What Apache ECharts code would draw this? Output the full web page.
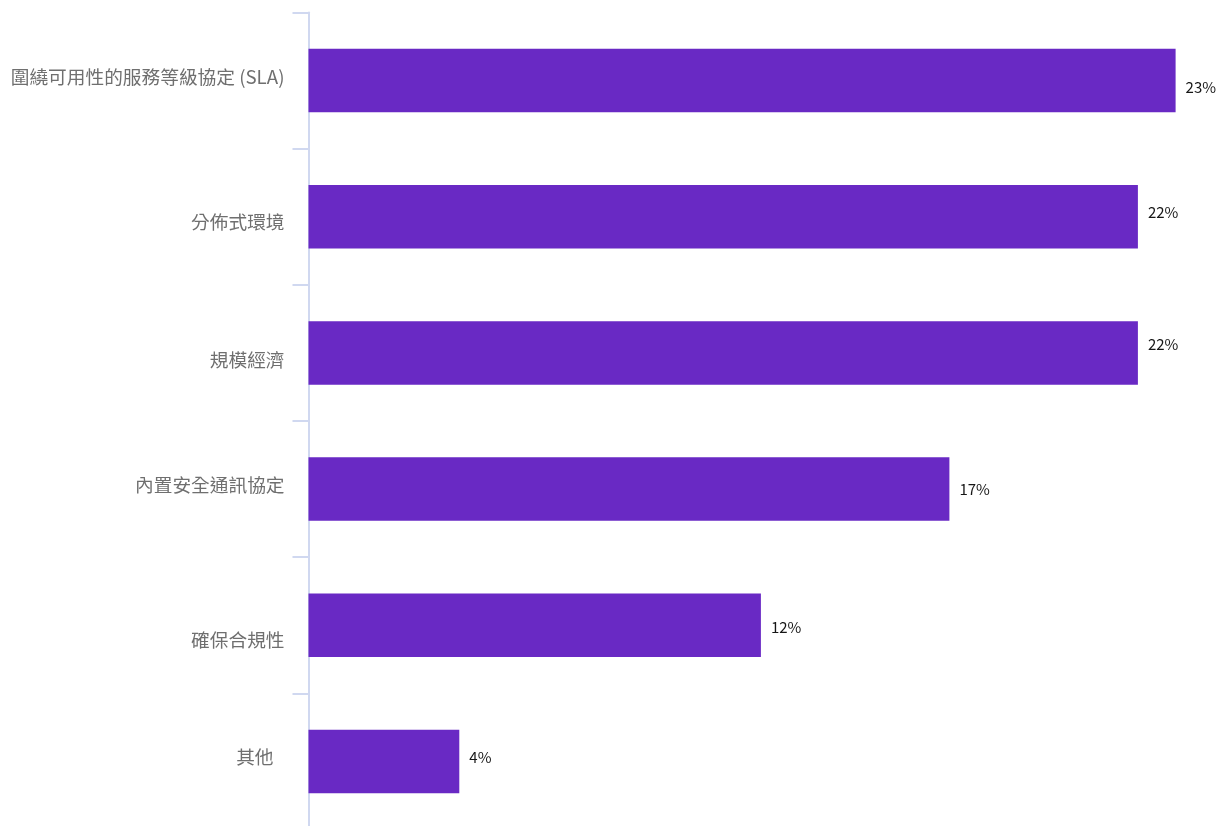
<!DOCTYPE html>
<html>
<head>
<meta charset="utf-8">
<script src="https://cdn.jsdelivr.net/npm/echarts@6/dist/echarts.min.js"></script>
<style>
  html, body { margin: 0; padding: 0; background: #ffffff; }
  #chart { width: 1230px; height: 826px; }
</style>
</head>
<body>
<div id="chart"></div>
<script>
// Reasons cited, share of respondents (%)
const categories = [
  '圍繞可用性的服務等級協定 (SLA)',
  '分佈式環境',
  '規模經濟',
  '內置安全通訊協定',
  '確保合規性',
  '其他'
];
const shares = [23, 22, 22, 17, 12, 4];

// Small vertical nudges (px) for the category and value labels
const categoryNudge = [-4, 5, 7, -4, 15, -5];
const categoryRightPad = [0, 0, 0, 0, 0, 11];
const valueNudge = [7, -4, -9, 0, 2, -4];

const rich = {};
categories.forEach((c, i) => {
  const d = categoryNudge[i];
  rich['c' + i] = {
    fontFamily: '"Noto Sans CJK TC", "Noto Sans", sans-serif',
    fontSize: 18.7,
    color: '#6f6f6f',
    padding: [d > 0 ? 2 * d : 0, categoryRightPad[i], d < 0 ? -2 * d : 0, 0]
  };
});

const chart = echarts.init(document.getElementById('chart'), null, { renderer: 'canvas' });
chart.setOption({
  backgroundColor: '#ffffff',
  animation: false,
  grid: {
    left: 308.5, top: 12.5, width: 24 * 37.7, height: 817,
    containLabel: false,
    outerBoundsMode: 'none'
  },
  xAxis: {
    type: 'value',
    min: 0,
    max: 24,
    show: false
  },
  yAxis: {
    type: 'category',
    data: categories,
    inverse: true,
    axisLine: { show: true, lineStyle: { color: '#d0d8f0', width: 2 } },
    axisTick: { show: true, length: 16, lineStyle: { color: '#d0d8f0', width: 2 } },
    axisLabel: {
      margin: 24,
      formatter: (value, index) => '{c' + index + '|' + value + '}',
      rich: rich
    },
    splitLine: { show: false }
  },
  series: [{
    type: 'bar',
    barWidth: '46.6%',
    itemStyle: { color: '#6929c4' },
    data: shares.map((v, i) => ({
      value: v,
      label: { offset: [0, valueNudge[i]] }
    })),
    label: {
      show: true,
      position: 'right',
      distance: 10,
      formatter: p => p.value + '%',
      fontFamily: '"Noto Sans CJK TC", "Noto Sans", sans-serif',
      fontSize: 15,
      color: '#161616'
    }
  }]
});
</script>
</body>
</html>
